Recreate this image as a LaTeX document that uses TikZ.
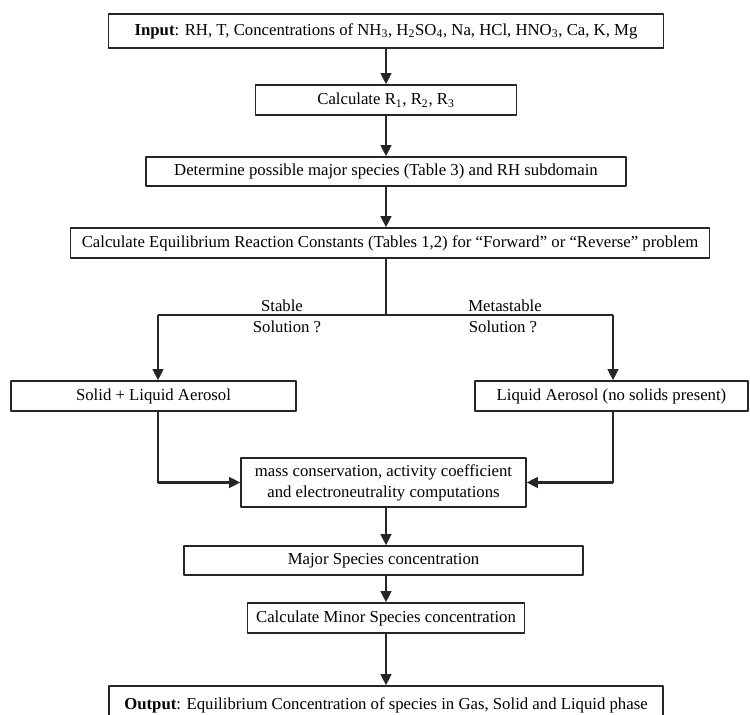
\documentclass[tikz,border=0pt]{standalone}
\usepackage{fontspec}
\setmainfont{Liberation Serif}
\usetikzlibrary{arrows.meta}
\begin{document}
\begin{tikzpicture}[x=0.025cm,y=-0.025cm,line join=round,
	font=\fontsize{11.9}{15}\selectfont,>={Triangle[length=8pt,width=7.5pt]},
	box/.style 2 args={draw=black!85,line width=0.9pt,inner sep=0pt,align=center,
		minimum width=#1*0.025cm,minimum height=#2*0.025cm},
	arr/.style={->,line width=1.8pt,black!85},
	thinline/.style={line width=0.8pt,black!85}]
	\useasboundingbox (0,0) rectangle (750,715);
	% main column
	\node[box={555}{34}] (inp) at (386,31)
	{\textbf{Input}: RH, T, Concentrations of NH\textsubscript{3}, H\textsubscript{2}SO\textsubscript{4}, Na, HCl, HNO\textsubscript{3}, Ca, K, Mg};
	\node[box={261}{30}] (calcr) at (386,100)
	{Calculate R\textsubscript{1}, R\textsubscript{2}, R\textsubscript{3}};
	\node[box={480}{29}] (det) at (386,171.5)
	{Determine possible major species (Table 3) and RH subdomain};
	\node[box={639}{30}] (eq) at (390,243)
	{Calculate Equilibrium Reaction Constants (Tables 1,2) for “Forward” or “Reverse” problem};
	\draw[arr] (inp) -- (calcr);
	\draw[arr] (calcr) -- (det);
	\draw[arr] (det) -- (eq.north -| det);
	% branches
	\path (158,315) coordinate (bl)
	(613,315) coordinate (br)
	(386,315) coordinate (bm);
	\node[box={285}{30}] (solid) at (153.5,396) {Solid + Liquid Aerosol};
	\node[box={273}{30}] (liquid) at (611.5,396) {Liquid Aerosol (no solids present)};
	\draw[thinline] (eq.south -| bm) -- (bm);
	\draw[thinline] (bl) -- (br);
	\draw[arr] (bl) -- (solid.north -| bl);
	\draw[arr] (br) -- (liquid.north -| br);
	\node (stable) at (282,306) {Stable};
	\node (solq) at (287,327) {Solution ?};
	\node (meta) at (505,306) {Metastable};
	\node (metaq) at (503,327) {Solution ?};
	% lower column
	\node[box={285}{49}] (mass) at (383.5,482.5)
	{mass conservation, activity coefficient\\ and electroneutrality computations};
	\path (158,482.5) coordinate (cl)
	(613,482.5) coordinate (cr);
	\draw[thinline] (solid.south -| cl) -- (cl);
	\draw[arr] (cl) -- (mass.west);
	\draw[thinline] (liquid.south -| cr) -- (cr);
	\draw[arr] (cr) -- (mass.east);
	\node[box={399}{29}] (major) at (383.5,560.5) {Major Species concentration};
	\node[box={277}{30}] (minor) at (386,618) {Calculate Minor Species concentration};
	\node[box={554}{38}] (out) at (386,705)
	{\textbf{Output}: Equilibrium Concentration of species in Gas, Solid and Liquid phase};
	\draw[arr] (mass.south -| minor) -- (major.north -| minor);
	\draw[arr] (major.south -| minor) -- (minor);
	\draw[arr] (minor) -- (out);
\end{tikzpicture}
\end{document}
